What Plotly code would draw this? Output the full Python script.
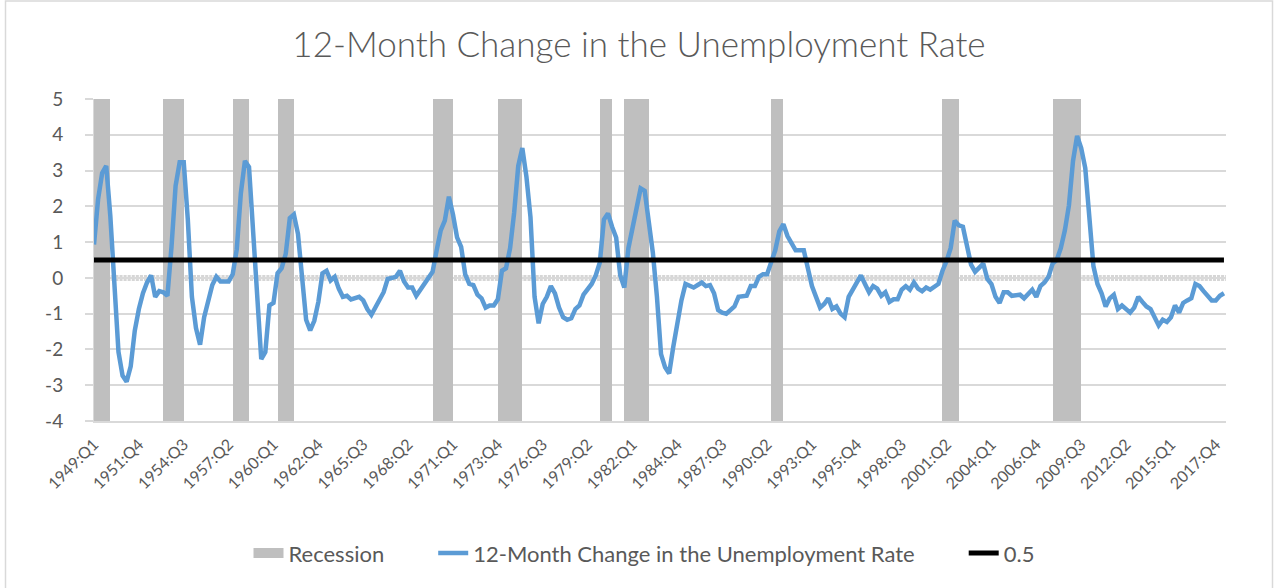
import plotly.graph_objects as go

# ---------------- data ----------------
years = list(range(1949, 2019))
quarters = [f"{y}:Q{q}" for y in years for q in (1, 2, 3, 4)][:278]

unemp_change = [
    0.93, 2.20, 2.93, 3.13,      # 1949
    1.73, -0.30, -2.07, -2.73,   # 1950
    -2.90, -2.47, -1.47, -0.87,  # 1951
    -0.43, -0.13, 0.07, -0.53,   # 1952
    -0.37, -0.40, -0.50, 0.87,   # 1953
    2.57, 3.23, 3.23, 1.63,      # 1954
    -0.53, -1.40, -1.87, -1.10,  # 1955
    -0.70, -0.20, 0.03, -0.10,   # 1956
    -0.10, -0.10, 0.10, 0.80,    # 1957
    2.37, 3.27, 3.10, 1.43,      # 1958
    -0.47, -2.27, -2.07, -0.77,  # 1959
    -0.70, 0.13, 0.27, 0.67,     # 1960
    1.67, 1.77, 1.23, -0.07,     # 1961
    -1.17, -1.47, -1.20, -0.67,  # 1962
    0.13, 0.20, -0.07, 0.03,     # 1963
    -0.30, -0.53, -0.50, -0.60,  # 1964
    -0.57, -0.53, -0.63, -0.87,  # 1965
    -1.03, -0.83, -0.60, -0.40,  # 1966
    -0.03, 0.00, 0.03, 0.20,     # 1967
    -0.10, -0.27, -0.27, -0.50,  # 1968
    -0.33, -0.13, 0.03, 0.17,    # 1969
    0.77, 1.33, 1.60, 2.27,      # 1970
    1.77, 1.13, 0.87, 0.10,      # 1971
    -0.17, -0.20, -0.47, -0.57,  # 1972
    -0.83, -0.77, -0.77, -0.60,  # 1973
    0.20, 0.27, 0.83, 1.83,      # 1974
    3.13, 3.63, 2.83, 1.70,      # 1975
    -0.53, -1.27, -0.73, -0.53,  # 1976
    -0.23, -0.43, -0.83, -1.10,  # 1977
    -1.17, -1.13, -0.87, -0.77,  # 1978
    -0.47, -0.30, -0.17, 0.07,   # 1979
    0.43, 1.63, 1.80, 1.43,      # 1980
    1.13, 0.07, -0.27, 0.83,     # 1981
    1.40, 2.03, 2.50, 2.43,      # 1982
    1.53, 0.70, -0.53, -2.13,    # 1983
    -2.50, -2.67, -1.93, -1.23,  # 1984
    -0.63, -0.17, -0.23, -0.27,  # 1985
    -0.20, -0.13, -0.23, -0.20,  # 1986
    -0.43, -0.90, -0.97, -1.00,  # 1987
    -0.90, -0.80, -0.53, -0.50,  # 1988
    -0.50, -0.23, -0.23, 0.03,   # 1989
    0.10, 0.10, 0.47, 0.77,      # 1990
    1.30, 1.50, 1.17, 0.97,      # 1991
    0.77, 0.77, 0.77, 0.27,      # 1992
    -0.23, -0.53, -0.83, -0.73,  # 1993
    -0.57, -0.87, -0.80, -1.00,  # 1994
    -1.10, -0.53, -0.33, -0.07,  # 1995
    0.07, -0.17, -0.40, -0.23,   # 1996
    -0.30, -0.50, -0.40, -0.67,  # 1997
    -0.60, -0.60, -0.33, -0.23,  # 1998
    -0.33, -0.13, -0.30, -0.37,  # 1999
    -0.27, -0.33, -0.23, -0.17,  # 2000
    0.20, 0.47, 0.83, 1.60,      # 2001
    1.47, 1.43, 0.90, 0.37,      # 2002
    0.17, 0.30, 0.40, -0.03,     # 2003
    -0.17, -0.53, -0.70, -0.40,  # 2004
    -0.40, -0.50, -0.47, -0.47,  # 2005
    -0.57, -0.47, -0.33, -0.53,  # 2006
    -0.23, -0.13, 0.03, 0.40,    # 2007
    0.50, 0.83, 1.33, 2.03,      # 2008
    3.27, 3.97, 3.63, 3.07,      # 2009
    1.57, 0.33, -0.17, -0.43,    # 2010
    -0.80, -0.57, -0.47, -0.87,  # 2011
    -0.77, -0.87, -0.97, -0.83,  # 2012
    -0.53, -0.67, -0.80, -0.87,  # 2013
    -1.07, -1.33, -1.17, -1.23,  # 2014
    -1.10, -0.77, -0.97, -0.70,  # 2015
    -0.63, -0.57, -0.17, -0.23,  # 2016
    -0.37, -0.50, -0.63, -0.63,  # 2017
    -0.50, -0.43,                # 2018
]

threshold = 0.5
threshold_series = [threshold] * len(quarters)

# recession periods (first quarter, last quarter)
recession_periods = [
    ("1949:Q1", "1949:Q4"),
    ("1953:Q2", "1954:Q2"),
    ("1957:Q3", "1958:Q2"),
    ("1960:Q2", "1961:Q1"),
    ("1969:Q4", "1970:Q4"),
    ("1973:Q4", "1975:Q1"),
    ("1980:Q1", "1980:Q3"),
    ("1981:Q3", "1982:Q4"),
    ("1990:Q3", "1991:Q1"),
    ("2001:Q1", "2001:Q4"),
    ("2007:Q4", "2009:Q2"),
]
recession_top = 5
recession_bottom = -4

x_tick_labels = quarters[::11]
y_tick_values = [-4, -3, -2, -1, 0, 1, 2, 3, 4, 5]
y_tick_labels = ["-4", "-3", "-2", "-1", "0", "1", "2", "3", "4", "5"]

# ---------------- derived ----------------
rec_flag = [False] * len(quarters)
for a, b in recession_periods:
    for i in range(quarters.index(a), quarters.index(b) + 1):
        rec_flag[i] = True
rec_up = [recession_top if f else None for f in rec_flag]
rec_down = [recession_bottom if f else None for f in rec_flag]

FONT = "Lato"
TXT = "#595959"
GRID = "#d9d9d9"
REC = "#bfbfbf"
GAP = "\u2003\u2003\u2002"   # extra spacing between legend entries (Excel-like)

fig = go.Figure()
fig.add_trace(go.Bar(
    x=quarters, y=rec_up, name="Recession", marker_color=REC,
    marker_line_width=0, width=1, offset=0, legendgroup="rec",
    showlegend=False, hoverinfo="skip"))
fig.add_trace(go.Bar(
    x=quarters, y=rec_down, name="Recession", marker_color=REC,
    marker_line_width=0, width=1, offset=0, legendgroup="rec",
    showlegend=False, hoverinfo="skip"))
# legend proxy for the recession bars (wide grey swatch)
fig.add_trace(go.Scatter(
    x=[None], y=[None], mode="lines", name="Recession" + GAP, legendgroup="rec",
    line=dict(color=REC, width=15)))
fig.add_trace(go.Scatter(
    x=quarters, y=unemp_change, mode="lines",
    name="12-Month Change in the Unemployment Rate" + GAP,
    line=dict(color="#5b9bd5", width=4.5)))
fig.add_trace(go.Scatter(
    x=quarters, y=threshold_series, mode="lines", name="0.5",
    line=dict(color="#000000", width=5)))

# zero band (Excel-like)
fig.add_shape(type="line", xref="paper", yref="y", x0=0, x1=1, y0=0, y1=0,
              line=dict(color="#d6d6d6", width=6), layer="between")
fig.add_shape(type="line", xref="paper", yref="y", x0=0, x1=1, y0=0, y1=0,
              line=dict(color="#ffffff", width=6, dash="1px,3.08px"), layer="between")

# chart border
L, R, T, B = 94, 1226, 99.3, 421
pw, ph = R - L, B - T
fig.add_shape(type="rect", xref="paper", yref="paper",
              x0=(5.5 - L) / pw, x1=(1272.5 - L) / pw,
              y0=(B - 600) / ph, y1=(B - 1.5) / ph,
              line=dict(color=GRID, width=1.5), fillcolor="rgba(0,0,0,0)", layer="below")

fig.update_layout(
    width=1275, height=588,
    margin=dict(l=L, r=1275 - R, t=T, b=588 - B, autoexpand=False),
    paper_bgcolor="white", plot_bgcolor="white",
    barmode="relative", bargap=0,
    title=dict(text="12-Month Change in the Unemployment Rate",
               x=(639 - L) / pw, xref="paper", xanchor="center",
               y=1 - 45 / 588, yanchor="middle",
               font=dict(family=FONT, size=35, color=TXT, weight=300)),
    legend=dict(orientation="h", x=(644 - L) / pw, xanchor="center",
                y=(B - 553) / ph, yanchor="middle",
                font=dict(family=FONT, size=22, color=TXT),
                traceorder="normal"),
    font=dict(family=FONT, color=TXT),
    showlegend=True,
)
fig.update_xaxes(
    type="category", range=[0, 277.5], automargin=False,
    tickmode="array", tickvals=x_tick_labels, ticktext=x_tick_labels,
    tickangle=-45, tickfont=dict(family=FONT, size=16, color=TXT),
    showgrid=False, zeroline=False, showline=True, linecolor=GRID, linewidth=1.5,
    ticks="", ticklabelstandoff=6,
)
fig.update_yaxes(
    range=[-4, 5], automargin=False,
    tickmode="array", tickvals=y_tick_values, ticktext=y_tick_labels,
    tickfont=dict(family=FONT, size=19, color=TXT),
    showgrid=True, gridcolor=GRID, gridwidth=1.5, zeroline=False,
    showline=True, linecolor=GRID, linewidth=1,
    ticks="outside", ticklen=8, tickcolor=GRID, tickwidth=1.5,
    ticklabelstandoff=18,
)

fig.write_html("out.html", config={"displayModeBar": False},
               post_script="document.body.style.margin='0';")
